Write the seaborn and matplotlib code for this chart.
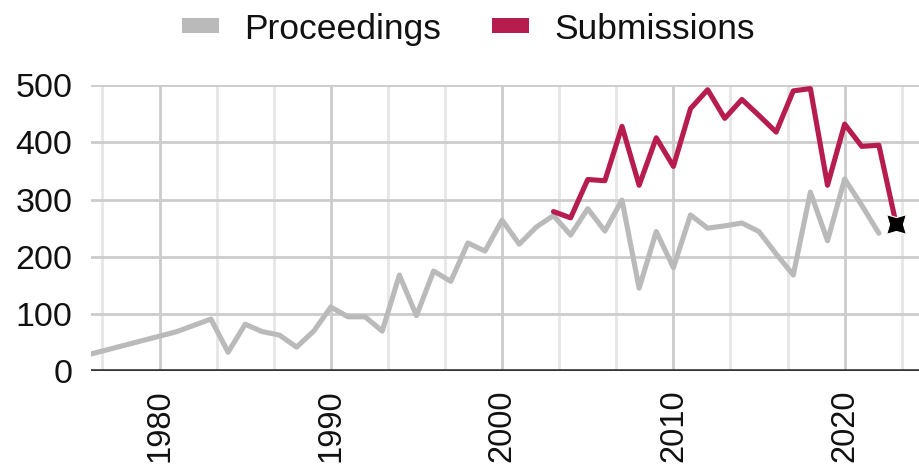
import matplotlib
matplotlib.use("Agg")
import matplotlib.pyplot as plt
from matplotlib.patches import Patch
from matplotlib.ticker import MultipleLocator
import numpy as np
import pandas as pd
import seaborn as sns

# ---- data ----
proc_years = [1976, 1981, 1983, 1984, 1985, 1986, 1987, 1988, 1989, 1990,
              1991, 1992, 1993, 1994, 1995, 1996, 1997, 1998, 1999, 2000,
              2001, 2002, 2003, 2004, 2005, 2006, 2007, 2008, 2009, 2010,
              2011, 2012, 2013, 2014, 2015, 2016, 2017, 2018, 2019, 2020,
              2021, 2022]
proc_values = [30, 69, 91, 33, 82, 69, 63, 42, 70, 112,
               95, 95, 70, 168, 97, 175, 157, 224, 210, 264,
               222, 252, 272, 238, 284, 245, 299, 145, 244, 181,
               273, 250, 254, 259, 244, 205, 168, 313, 228, 336,
               290, 241]

sub_years = [2003, 2004, 2005, 2006, 2007, 2008, 2009, 2010, 2011, 2012,
             2013, 2014, 2015, 2016, 2017, 2018, 2019, 2020, 2021, 2022, 2023]
sub_values = [279, 268, 335, 333, 428, 325, 408, 358, 459, 492,
              442, 475, 447, 418, 490, 494, 325, 432, 393, 395, 258]

star_year = [2023]
star_value = [258]

series_labels = ["Proceedings", "Submissions"]
y_ticks = [0, 100, 200, 300, 400, 500]
x_ticks = [1980, 1990, 2000, 2010, 2020]

GREY = "#bababa"
RED = "#b71c4f"
TEXT = "#111111"

sns.set_theme(style="white")
plt.rcParams["font.family"] = ["Liberation Sans", "DejaVu Sans"]

fig = plt.figure(figsize=(9.2, 4.68), dpi=100)
ax = fig.add_axes([0.099, 0.207, 0.901, 0.611])

df_p = pd.DataFrame({"year": proc_years, "value": proc_values})
df_s = pd.DataFrame({"year": sub_years, "value": sub_values})

# grid
ax.set_xlim(1976, 2024.4)
ax.set_ylim(0, 500)
ax.xaxis.set_major_locator(MultipleLocator(10))
ax.xaxis.set_minor_locator(MultipleLocator(10 / 3))
ax.set_yticks(y_ticks)
ax.set_xticks(x_ticks)
ax.grid(which="major", axis="both", color="#cccccc", linewidth=2.0)
ax.grid(which="minor", axis="x", color="#e6e6e6", linewidth=2.0)
ax.set_axisbelow(True)

sns.lineplot(data=df_p, x="year", y="value", ax=ax, color=GREY,
             linewidth=3.7, zorder=3)
sns.lineplot(data=df_s, x="year", y="value", ax=ax, color=RED,
             linewidth=3.7, zorder=4)
ax.plot(star_year, star_value, marker=(4, 1, 45), markersize=20,
        color="black", markeredgecolor="white", markeredgewidth=0.8,
        linestyle="none", zorder=6, clip_on=False)

ax.axhline(0, color="#333333", linewidth=2.6, zorder=5)

for s in ax.spines.values():
    s.set_visible(False)

ax.set_xlabel("")
ax.set_ylabel("")
ax.tick_params(axis="y", labelsize=24.5, pad=13.5, length=0, colors=TEXT)
ax.tick_params(axis="x", which="both", labelsize=23.5, pad=13.5, length=0,
               colors=TEXT, labelrotation=90)

handles = [Patch(facecolor=GREY, edgecolor="none"),
           Patch(facecolor=RED, edgecolor="none")]
fig.legend(handles, series_labels, loc="center", bbox_to_anchor=(0.509, 0.938),
           ncol=2, frameon=False, fontsize=25.5, handlelength=1.05,
           handleheight=0.27, handletextpad=0.7, columnspacing=1.44,
           borderpad=0.0, labelcolor=TEXT)

fig.savefig("out.png", dpi=100)
